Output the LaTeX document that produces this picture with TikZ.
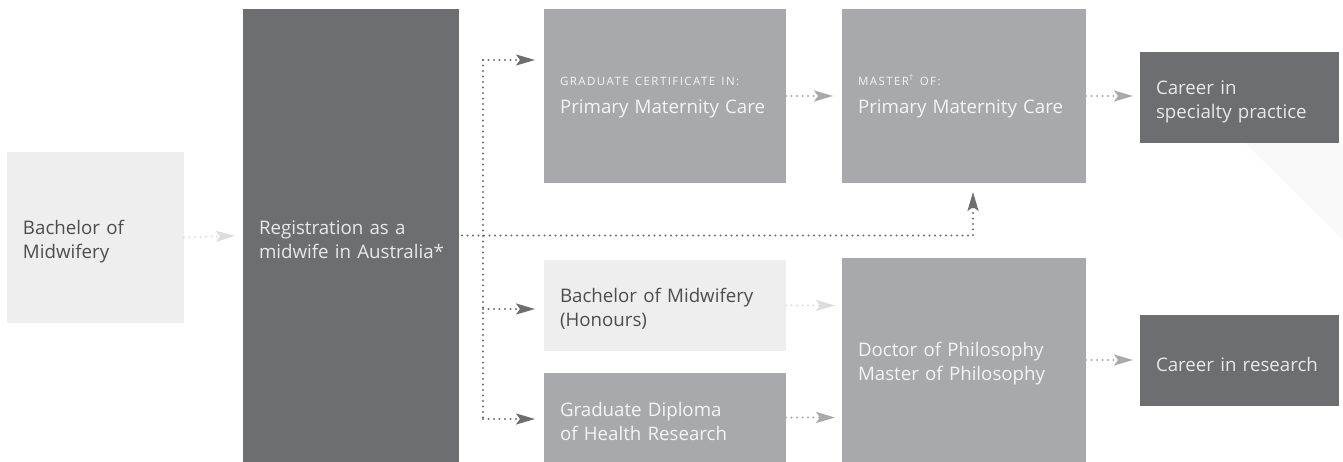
\documentclass[tikz,border=0pt]{standalone}
\usepackage{fontspec}
\setmainfont{Open Sans}
\usetikzlibrary{arrows.meta}
\definecolor{dk}{HTML}{6D6E71}
\definecolor{md}{HTML}{A7A9AC}
\definecolor{lt}{HTML}{EEEEEF}
\definecolor{lttext}{HTML}{4D4D4F}
\definecolor{dktext}{HTML}{E8E8E9}
\definecolor{mdtext}{HTML}{F4F4F5}
\definecolor{ltarrow}{HTML}{DDDDDE}
\definecolor{faint}{HTML}{F9F9F9}
\newcommand{\caplabel}[1]{{\fontsize{11.5}{14}\selectfont\addfontfeatures{LetterSpace=12.5}#1}}
\begin{document}
\begin{tikzpicture}[x=1pt,y=1pt,
  box/.style={rectangle, inner sep=0pt, outer sep=0pt, align=left,
    text height=21.5pt, font=\fontsize{18.7}{24}\selectfont},
  darkbox/.style={box, fill=dk, text=dktext},
  midbox/.style={box, fill=md, text=mdtext},
  lightbox/.style={box, fill=lt, text=lttext},
  labelled/.style={text height=10.5pt},
  dots/.style={line width=2.2pt, dash pattern=on 0pt off 5.5pt, line cap=round},
  arr/.style={dots, -{Stealth[length=19pt,width=11pt,inset=4pt]}},
  darkarr/.style={arr, draw=dk},
  midarr/.style={arr, draw=md},
  lightarr/.style={arr, draw=ltarrow},
  darkline/.style={dots, draw=dk}
]
\useasboundingbox (0,0) rectangle (1343,-462);
\fill[faint] (1245,-143) -- (1343,-143) -- (1343,-240) -- cycle;

\node[lightbox, minimum width=177pt, minimum height=171pt, text width=145pt] (bach) at (95.5,-237.5) {Bachelor of\\Midwifery};
\node[darkbox, minimum width=216pt, minimum height=453pt, text width=184pt] (reg) at (351,-235.5) {Registration as a\\\mbox{midwife in Australia*}};
\node[midbox, labelled, minimum width=242pt, minimum height=174pt, text width=210pt] (gc) at (665,-96) {\caplabel{GRADUATE CERTIFICATE IN:}\\[4pt]Primary Maternity Care};
\node[midbox, labelled, minimum width=244pt, minimum height=174pt, text width=212pt] (ms) at (964,-96) {\caplabel{MASTER\textsuperscript{†} OF:}\\[4pt]Primary Maternity Care};
\node[darkbox, minimum width=199pt, minimum height=91pt, text width=167pt] (csp) at (1239.5,-97.5) {Career in\\specialty practice};
\node[lightbox, minimum width=242pt, minimum height=91pt, text width=210pt] (hon) at (665,-305.5) {Bachelor of Midwifery\\(Honours)};
\node[midbox, minimum width=242pt, minimum height=89pt, text width=210pt] (dip) at (665,-417.5) {Graduate Diploma\\of Health Research};
\node[midbox, minimum width=244pt, minimum height=204pt, text width=212pt] (phd) at (964,-360) {Doctor of Philosophy\\Master of Philosophy};
\node[darkbox, minimum width=199pt, minimum height=91pt, text width=167pt] (cre) at (1239.5,-360.5) {Career in research};

% junction coordinates
\coordinate (jTop) at (483,-60);
\coordinate (jHon) at (483,-309);
\coordinate (jDip) at (483,-419);
\coordinate (jMid) at (973,-235.5);
\coordinate (msIn) at (973,-183);

\draw[lightarr, shorten >=8pt] (bach.east) -- (reg.west);
\draw[darkline] (jTop) -- (jDip);
\draw[darkarr, shorten >=9pt] (jTop) -- (jTop -| gc.west);
\draw[darkarr, shorten >=9pt] (jHon) -- (jHon -| hon.west);
\draw[darkarr, shorten >=9pt] (jDip) -- (jDip -| dip.west);
\draw[darkarr, shorten >=9pt] ([xshift=3pt]reg.east) -- (jMid) -- (msIn);

\draw[midarr, shorten >=9pt] (gc.east) -- (ms.west);
\draw[midarr, shorten >=7pt] (ms.east) -- (ms.east -| csp.west);
\draw[lightarr, shorten >=7pt] (hon.east) -- (hon.east -| phd.west);
\draw[midarr, shorten >=7pt] (dip.east) -- (dip.east -| phd.west);
\draw[midarr, shorten >=7pt] (phd.east) -- (phd.east -| cre.west);
\end{tikzpicture}
\end{document}
